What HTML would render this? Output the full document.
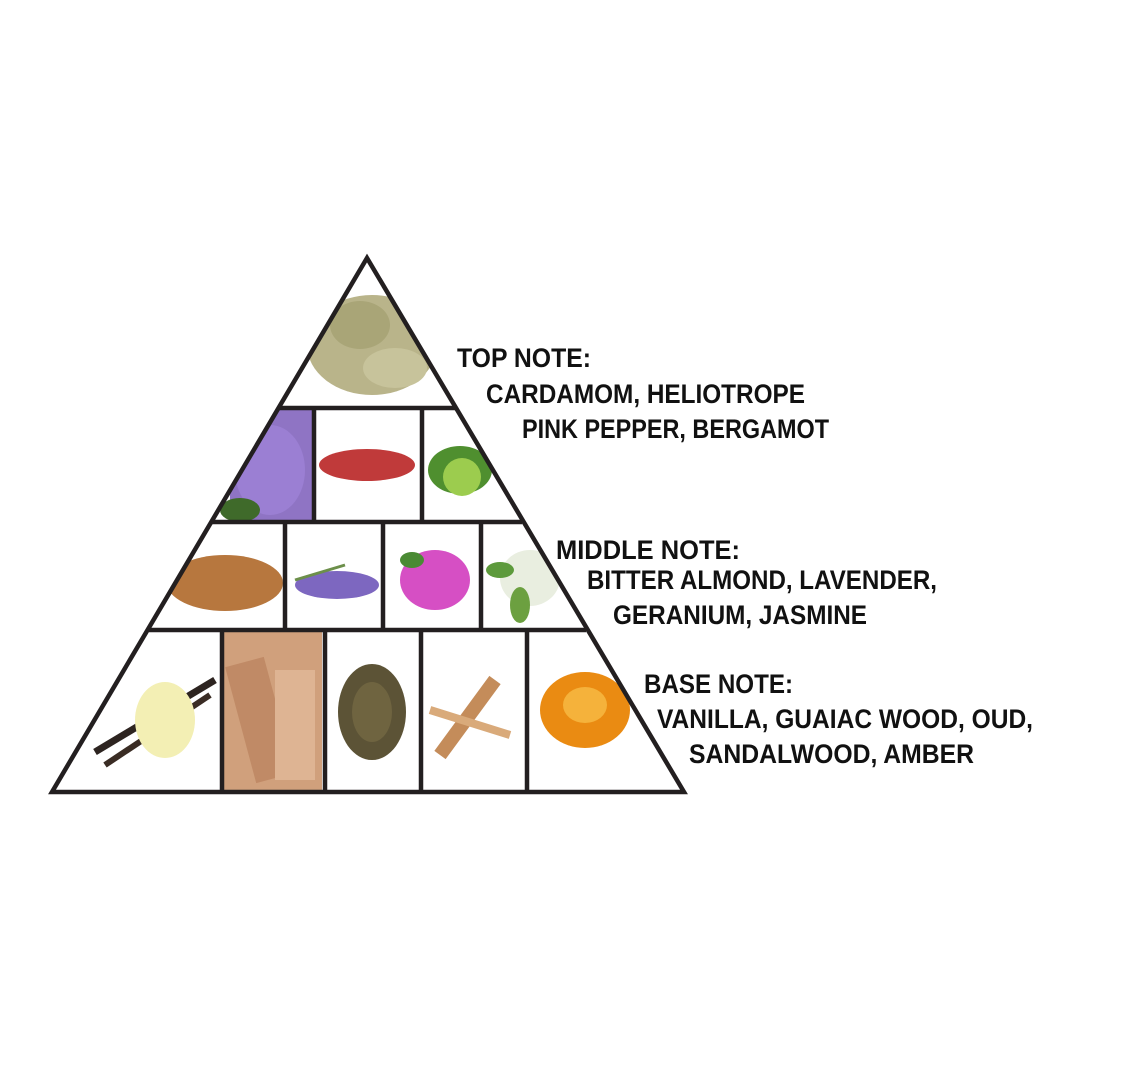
<!DOCTYPE html>
<html><head><meta charset="utf-8"><style>
html,body{margin:0;padding:0;background:#fff;}
svg{display:block}
text{font-family:"Liberation Sans Narrow","Liberation Sans",sans-serif;font-weight:bold;font-size:27px;fill:#111;}
</style></head><body>
<svg width="1134" height="1076" viewBox="0 0 1134 1076" xmlns="http://www.w3.org/2000/svg">
<defs><clipPath id="tri"><polygon points="367,258 52,792 684,792"/></clipPath></defs>
<g clip-path="url(#tri)">
 <!-- top: cardamom -->
 <ellipse cx="372" cy="345" rx="65" ry="50" fill="#b9b48a"/>
 <ellipse cx="360" cy="325" rx="30" ry="24" fill="#a9a577"/>
 <ellipse cx="395" cy="368" rx="32" ry="20" fill="#c7c39b"/>
 <!-- row 1 -->
 <rect x="230" y="410" width="82" height="112" fill="#8f74c4"/>
 <ellipse cx="270" cy="470" rx="35" ry="45" fill="#9b7fd3"/>
 <ellipse cx="240" cy="510" rx="20" ry="12" fill="#3f6a2a"/>
 <ellipse cx="367" cy="465" rx="48" ry="16" fill="#c03a3a"/>
 <ellipse cx="460" cy="470" rx="32" ry="24" fill="#4f8f2f"/>
 <circle cx="462" cy="477" r="19" fill="#9ccc4e"/>
 <!-- row 2 -->
 <ellipse cx="225" cy="583" rx="58" ry="28" fill="#b7773e"/>
 <ellipse cx="337" cy="585" rx="42" ry="14" fill="#7d67c0"/>
 <line x1="295" y1="580" x2="345" y2="565" stroke="#6c8f4a" stroke-width="3"/>
 <ellipse cx="435" cy="580" rx="35" ry="30" fill="#d64fc4"/>
 <ellipse cx="412" cy="560" rx="12" ry="8" fill="#4a8a34"/>
 <ellipse cx="530" cy="578" rx="30" ry="28" fill="#e9eee0"/>
 <ellipse cx="520" cy="605" rx="10" ry="18" fill="#6ca040"/>
 <ellipse cx="500" cy="570" rx="14" ry="8" fill="#5d9a3c"/>
 <!-- row 3 -->
 <line x1="95" y1="752" x2="215" y2="680" stroke="#2d2420" stroke-width="7"/>
 <line x1="105" y1="765" x2="210" y2="695" stroke="#3a2c24" stroke-width="6"/>
 <ellipse cx="165" cy="720" rx="30" ry="38" fill="#f3efb4"/>
 <rect x="224" y="632" width="98" height="158" fill="#d0a07c"/>
 <rect x="240" y="660" width="40" height="120" fill="#c08a66" transform="rotate(-15 260 720)"/>
 <rect x="275" y="670" width="40" height="110" fill="#deb493"/>
 <ellipse cx="372" cy="712" rx="34" ry="48" fill="#5c5336"/>
 <ellipse cx="372" cy="712" rx="20" ry="30" fill="#6f6440"/>
 <line x1="440" y1="755" x2="495" y2="680" stroke="#c48c5a" stroke-width="14"/>
 <line x1="430" y1="710" x2="510" y2="735" stroke="#d9aa7a" stroke-width="8"/>
 <ellipse cx="585" cy="710" rx="45" ry="38" fill="#ea8b12"/>
 <ellipse cx="585" cy="705" rx="22" ry="18" fill="#f5b23b"/>
</g>
<g stroke="#231f20" stroke-width="4.5" fill="none" stroke-linejoin="miter">
 <polygon points="367,258 52,792 684,792"/>
 <line x1="279" y1="408" x2="455" y2="408"/>
 <line x1="212" y1="522" x2="522" y2="522"/>
 <line x1="149" y1="630" x2="586" y2="630"/>
 <line x1="314" y1="408" x2="314" y2="522"/>
 <line x1="422" y1="408" x2="422" y2="522"/>
 <line x1="285" y1="522" x2="285" y2="630"/>
 <line x1="383" y1="522" x2="383" y2="630"/>
 <line x1="481" y1="522" x2="481" y2="630"/>
 <line x1="222" y1="630" x2="222" y2="792"/>
 <line x1="325" y1="630" x2="325" y2="792"/>
 <line x1="421" y1="630" x2="421" y2="792"/>
 <line x1="527" y1="630" x2="527" y2="792"/>
</g>
<text x="457" y="367" textLength="134" lengthAdjust="spacingAndGlyphs">TOP NOTE:</text>
<text x="486" y="403" textLength="319" lengthAdjust="spacingAndGlyphs">CARDAMOM, HELIOTROPE</text>
<text x="522" y="438" textLength="307" lengthAdjust="spacingAndGlyphs">PINK PEPPER, BERGAMOT</text>
<text x="556" y="559" textLength="184" lengthAdjust="spacingAndGlyphs">MIDDLE NOTE:</text>
<text x="587" y="589" textLength="350" lengthAdjust="spacingAndGlyphs">BITTER ALMOND, LAVENDER,</text>
<text x="613" y="624" textLength="254" lengthAdjust="spacingAndGlyphs">GERANIUM, JASMINE</text>
<text x="644" y="693" textLength="149" lengthAdjust="spacingAndGlyphs">BASE NOTE:</text>
<text x="657" y="728" textLength="376" lengthAdjust="spacingAndGlyphs">VANILLA, GUAIAC WOOD, OUD,</text>
<text x="689" y="763" textLength="285" lengthAdjust="spacingAndGlyphs">SANDALWOOD, AMBER</text>
</svg>
</body></html>
